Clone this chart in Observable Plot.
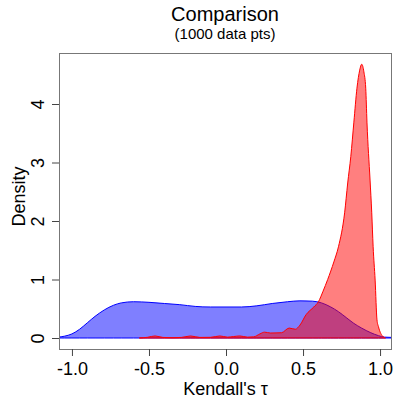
<!DOCTYPE html>
<html>
<head>
<meta charset="utf-8">
<script src="https://cdn.jsdelivr.net/npm/d3@7"></script>
<script src="https://cdn.jsdelivr.net/npm/@observablehq/plot@0.6"></script>
<style>
  html, body { margin: 0; padding: 0; background: white; }
  #fig { position: relative; width: 396px; height: 400px; font-family: "Liberation Sans", Arial, sans-serif; color: black; }
  #title { position: absolute; left: 59px; width: 332px; top: 4px; text-align: center; font-size: 20px; line-height: 20px; }
  #subtitle { position: absolute; left: 59px; width: 332px; top: 25.5px; text-align: center; font-size: 15px; line-height: 15px; }
  #chart { position: absolute; left: 0; top: 44px; }
</style>
</head>
<body>
<div id="fig">
  <div id="title">Comparison</div>
  <div id="subtitle">(1000 data pts)</div>
  <div id="chart"></div>
</div>
<script>
// Blue density (tau values, density)
const blueX = [-1.09, -1.05, -1.0, -0.95, -0.9, -0.85, -0.79, -0.73, -0.68, -0.6, -0.5, -0.4, -0.3, -0.2, -0.1, 0.0, 0.1, 0.2, 0.3, 0.4, 0.48, 0.56, 0.62, 0.68, 0.73, 0.78, 0.83, 0.88, 0.94, 0.99, 1.03, 1.08];
const blueY = [0.015, 0.03, 0.07, 0.15, 0.26, 0.37, 0.48, 0.56, 0.6, 0.62, 0.61, 0.59, 0.57, 0.54, 0.53, 0.53, 0.53, 0.55, 0.59, 0.62, 0.635, 0.63, 0.6, 0.53, 0.45, 0.35, 0.25, 0.17, 0.09, 0.04, 0.015, 0.01];

// Red density
const redX = [-0.56, -0.51, -0.46, -0.41, -0.35, -0.29, -0.23, -0.17, -0.1, -0.04, 0.01, 0.05, 0.09, 0.14, 0.18, 0.22, 0.25, 0.29, 0.36, 0.41, 0.45, 0.48, 0.52, 0.57, 0.6, 0.63, 0.66, 0.7, 0.73, 0.77, 0.79, 0.81, 0.83, 0.85, 0.868, 0.881, 0.895, 0.907, 0.915, 0.935, 0.946, 0.955, 0.968, 0.98, 0.99, 1.02, 1.035];
const redY = [0, 0.012, 0.035, 0.01, 0.005, 0.01, 0.035, 0.01, 0.012, 0.035, 0.015, 0.025, 0.035, 0.015, 0.02, 0.07, 0.1, 0.085, 0.09, 0.17, 0.15, 0.22, 0.4, 0.53, 0.62, 0.8, 1.0, 1.3, 1.56, 2.14, 2.65, 3.1, 3.69, 4.27, 4.58, 4.68, 4.55, 4.27, 3.69, 2.7, 2.14, 1.56, 0.99, 0.31, 0.19, 0.02, 0];

const xTicks = [-1, -0.5, 0, 0.5, 1];
const xTickLabels = ["-1.0", "-0.5", "0.0", "0.5", "1.0"];
const yTicks = [0, 1, 2, 3, 4];
const yTickLabels = ["0", "1", "2", "3", "4"];

const blue = blueX.map((x, i) => ({x, y: blueY[i]}));
const red = redX.map((x, i) => ({x, y: redY[i]}));

const chart = Plot.plot({
  width: 396,
  height: 356,
  marginTop: 9,
  marginBottom: 51,
  marginLeft: 59,
  marginRight: 5,
  x: {domain: [-1.084, 1.071]},
  y: {domain: [-0.188, 4.872]},
  style: {fontFamily: "'Liberation Sans', Arial, sans-serif", fontSize: "18px", color: "black", background: "white"},
  marks: [
    Plot.areaY(blue, {x: "x", y: "y", fill: "blue", fillOpacity: 0.5, stroke: "blue", strokeWidth: 1, curve: "monotone-x", clip: true}),
    Plot.areaY(red, {x: "x", y: "y", fill: "red", fillOpacity: 0.5, stroke: "red", strokeWidth: 1, curve: "monotone-x", clip: true}),
    Plot.frame({stroke: "#777"}),
    Plot.axisX({ticks: xTicks, tickSize: 7, tickPadding: 6, tickFormat: (d, i) => xTickLabels[xTicks.indexOf(d)], label: null, fontSize: 18, stroke: "#444", fill: "black"}),
    Plot.axisY({ticks: yTicks, tickSize: 7, tickFormat: () => "", label: null, stroke: "#444"}),
    Plot.text(yTicks, {y: d => d, frameAnchor: "left", text: d => yTickLabels[yTicks.indexOf(d)], rotate: -90, textAnchor: "middle", lineAnchor: "bottom", dx: -16, fontSize: 18, fill: "black"}),
    Plot.text(["Density"], {frameAnchor: "left", text: d => d, rotate: -90, textAnchor: "middle", lineAnchor: "bottom", dx: -35, dy: -5, fontSize: 18, fill: "black"}),
    Plot.text(["Kendall's τ"], {frameAnchor: "bottom", text: d => d, lineAnchor: "bottom", dy: 45, fontSize: 18, fill: "black"})
  ]
});
document.getElementById("chart").appendChild(chart);
</script>
</body>
</html>
